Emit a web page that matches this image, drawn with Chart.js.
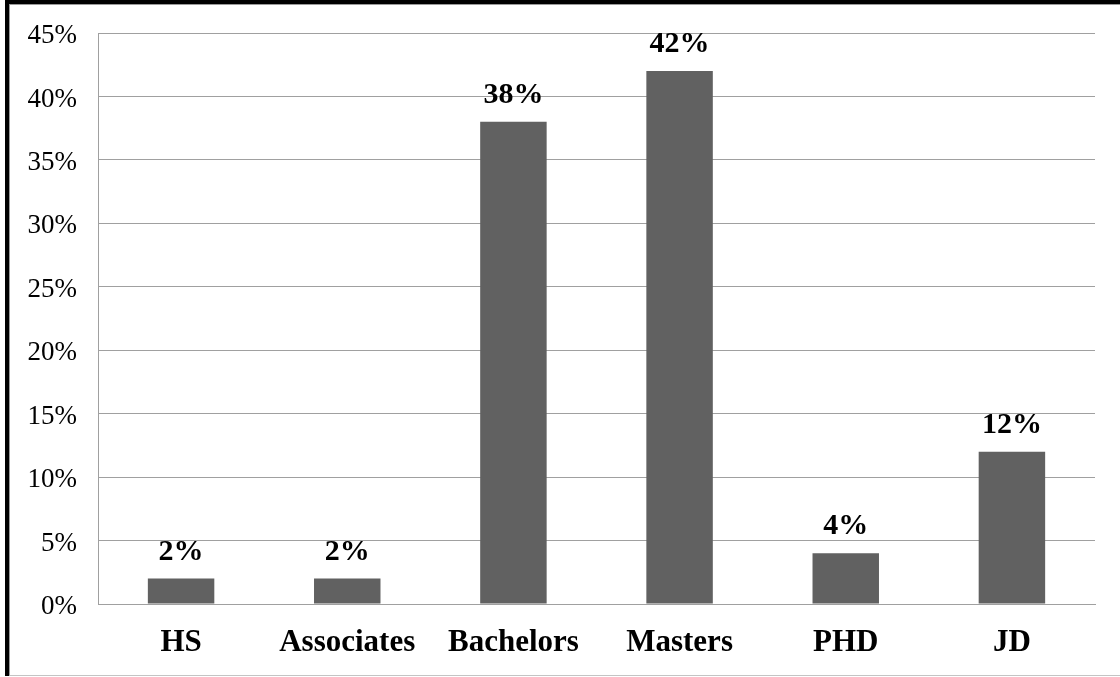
<!DOCTYPE html>
<html>
<head>
<meta charset="utf-8">
<title>Education level</title>
<script src="https://cdn.jsdelivr.net/npm/chart.js@4.4.1/dist/chart.umd.min.js"></script>
<style>
  html, body { margin: 0; padding: 0; background: #fff; }
  body { width: 1120px; height: 677px; position: relative; overflow: hidden; }
  .frame {
    position: absolute; left: 5px; top: 0; width: 1200px; height: 676px;
    box-sizing: border-box; border-left: 4px solid #000; border-top: 4px solid #000;
  }
  .frame-inner {
    position: absolute; left: 0; top: 0; right: 0; bottom: 0;
    border-left: 1px solid #9a9a9a; border-top: 1px solid #9a9a9a; border-bottom: 1px solid #c4c4c4;
  }
  .chart-box { position: absolute; left: 0; top: 0; width: 1120px; height: 677px; }
</style>
</head>
<body>
<div class="frame"><div class="frame-inner"></div></div>
<div class="chart-box"><canvas id="chart"></canvas></div>
<script>
// Share of respondents by highest degree
const categories = ['HS', 'Associates', 'Bachelors', 'Masters', 'PHD', 'JD'];
const shares = [2, 2, 38, 42, 4, 12];
const yTicks = [0, 5, 10, 15, 20, 25, 30, 35, 40, 45];

const serif = '"Liberation Serif", "Times New Roman", serif';

// Writes each bar's value above it
const valueLabels = {
  id: 'valueLabels',
  afterDatasetsDraw(chart) {
    const ctx = chart.ctx;
    const meta = chart.getDatasetMeta(0);
    ctx.save();
    ctx.font = 'bold 30px ' + serif;
    ctx.fillStyle = '#000';
    ctx.textAlign = 'center';
    ctx.textBaseline = 'alphabetic';
    meta.data.forEach((bar, i) => {
      ctx.fillText(shares[i] + '%', bar.x, bar.y - 19);
    });
    ctx.restore();
  }
};

new Chart(document.getElementById('chart'), {
  type: 'bar',
  data: {
    labels: categories,
    datasets: [{
      data: shares,
      backgroundColor: '#616161',
      borderWidth: 0,
      barPercentage: 0.4,
      categoryPercentage: 1.0
    }]
  },
  options: {
    responsive: true,
    maintainAspectRatio: false,
    animation: false,
    layout: { padding: { top: 33, right: 25, left: 0, bottom: 0 } },
    plugins: {
      legend: { display: false },
      tooltip: { enabled: false }
    },
    scales: {
      x: {
        grid: { display: false, drawTicks: false },
        border: { display: true, color: '#a0a0a0', width: 1 },
        ticks: {
          color: '#000',
          padding: 20,
          maxRotation: 0,
          autoSkip: false,
          font: { family: serif, size: 31, weight: 'bold' }
        },
        afterFit(scale) {
          scale.height = 73;
          scale.paddingLeft = 0;
          scale.paddingRight = 0;
        }
      },
      y: {
        min: 0,
        max: 45,
        afterBuildTicks(scale) { scale.ticks = yTicks.map(v => ({ value: v })); },
        grid: { color: '#a0a0a0', lineWidth: 1, drawTicks: false },
        border: { display: true, color: '#a0a0a0', width: 1 },
        ticks: {
          color: '#000',
          padding: 21,
          labelOffset: 3,
          font: { family: serif, size: 27 },
          callback: v => v + '%'
        },
        afterFit(scale) {
          scale.width = 98;
          scale.paddingTop = 0;
          scale.paddingBottom = 0;
        }
      }
    }
  },
  plugins: [valueLabels]
});
</script>
</body>
</html>
